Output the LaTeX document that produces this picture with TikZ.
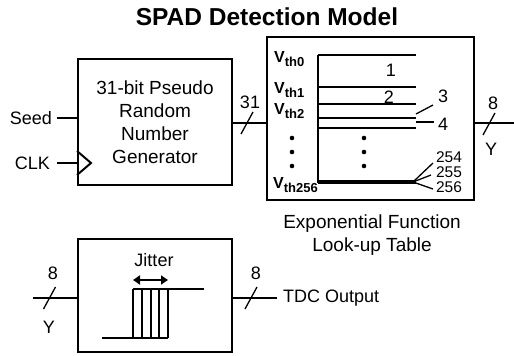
\documentclass[tikz,border=0pt]{standalone}
\usepackage{fontspec}
\setmainfont{Liberation Sans}
\usetikzlibrary{arrows.meta,calc}

% threshold label V_th<n>
\newcommand\vthlabel[1]{{\fontsize{16}{18}\selectfont\bfseries V}\raisebox{-4pt}{\fontsize{13}{15}\selectfont\bfseries th#1}}

\begin{document}
\begin{tikzpicture}[x=1pt,y=-1pt,
  every node/.style={inner sep=1pt, font=\fontsize{19}{23}\selectfont},
  blk/.style={draw, line width=2pt, inner sep=0pt, align=center},
  wire/.style={line width=2pt},
  thinline/.style={line width=1.3pt},
  lbl/.style={font=\fontsize{18}{20}\selectfont},
  fanlbl/.style={font=\fontsize{15.5}{17}\selectfont, inner sep=0pt},
  busmark/.pic={\draw[line width=1.3pt] (-6,11) -- (6,-11);}
]
\useasboundingbox (0,0) rectangle (514,356);

\node[font=\fontsize{24.5}{28}\selectfont\bfseries] (title) at (267,17) {SPAD Detection Model};

% ---------- pseudo random number generator ----------
\node[blk, minimum width=154pt, minimum height=126pt] (prng) at (155,122)
  {31-bit Pseudo\\Random\\Number\\Generator};

\node[lbl, anchor=east, inner xsep=5pt] (seed) at (57,118) {Seed};
\draw[wire] (seed.east) -- (seed.east -| prng.west);

\node[lbl, anchor=east, inner xsep=7pt] (clk) at (57,163) {CLK};
\coordinate (clkpin) at (clk.east -| prng.west);
\draw[wire] (clk.east) -- (clkpin);
\draw[wire] ($(clkpin)+(0,-12)$) -- ($(clkpin)+(14,0)$) -- ($(clkpin)+(0,12)$);

% ---------- exponential look-up table ----------
\node[blk, minimum width=207pt, minimum height=163pt] (lut) at (370.5,118.5) {};
\node[align=center] (lutcap) at (372,235) {Exponential Function\\Look-up Table};

\coordinate (busa) at (prng.east |- 0,123);
\draw[wire] (busa) -- (busa -| lut.west);
\pic at (247,123) {busmark};
\node[lbl] (w31) at (250,102) {31};

% threshold ladder
\draw[line width=1.8pt] (318,55) -- (318,183);
\foreach \y in {55,87,104,118,128}
  \draw[thinline] (318,\y) -- (416,\y);
\draw[line width=3.5pt] (318,182) -- (416,182);

\node[anchor=base west, inner sep=0pt] (vt0) at (274,62) {\vthlabel{0}};
\node[anchor=base west, inner sep=0pt] (vt1) at (274,93) {\vthlabel{1}};
\node[anchor=base west, inner sep=0pt] (vt2) at (274,114) {\vthlabel{2}};
\node[anchor=base west, inner sep=0pt] (vt256) at (273,188) {\vthlabel{256}};

\foreach \y in {138,152,166} {
  \fill (292,\y) circle (2.3pt);
  \fill (364,\y) circle (2.3pt);
}

\node[lbl] (n1) at (391,70) {1};
\node[lbl] (n2) at (389,97) {2};
\node[lbl] (n3) at (443,96) {3};
\node[lbl] (n4) at (443,124) {4};
\draw[thinline] (416,114) -- (433,105);
\draw[thinline] (416,122) -- (434,122);

\draw[thinline] (413,182) -- (433,163);
\draw[thinline] (413,182) -- (431,175);
\draw[thinline] (413,182) -- (433,189);
\node[fanlbl] (n254) at (449,157) {254};
\node[fanlbl] (n255) at (449,172) {255};
\node[fanlbl] (n256) at (449,187.5) {256};

\coordinate (yout) at (514,123);
\draw[wire] (yout -| lut.east) -- (yout);
\pic at (489,124) {busmark};
\node[lbl] (w8a) at (493,103) {8};
\node[lbl] (ya) at (491,149) {Y};

% ---------- TDC jitter block ----------
\node[blk, minimum width=154pt, minimum height=113pt] (tdc) at (155,295.5) {};

\coordinate (yin) at (33,298);
\draw[wire] (yin) -- (yin -| tdc.west);
\pic at (49.5,298) {busmark};
\node[lbl] (w8b) at (53,273) {8};
\node[lbl] (yb) at (49,327) {Y};

\node[lbl, anchor=west, inner xsep=6pt] (tdcout) at (277,298) {TDC Output};
\draw[wire] (tdc.east |- tdcout) -- (tdcout.west);
\pic at (251,298) {busmark};
\node[lbl] (w8c) at (256,273) {8};

% jittered step edge
\draw[thinline] (102,338) -- (168,338);
\foreach \x in {133,142,151,159,168}
  \draw[thinline] (\x,338) -- (\x,289);
\draw[thinline] (133,289) -- (204,289);
\draw[line width=1.8pt, {Triangle[length=7pt,width=9pt]}-{Triangle[length=7pt,width=9pt]}] (133,280) -- (168,280);
\node[lbl] (jit) at (154,260) {Jitter};

\end{tikzpicture}
\end{document}
